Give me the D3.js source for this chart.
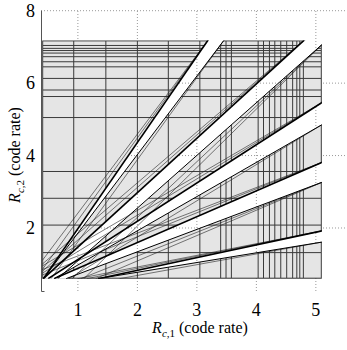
<!DOCTYPE html>
<html>
<head>
<meta charset="utf-8">
<script src="https://cdn.jsdelivr.net/npm/d3@7"></script>
<style>
body { margin: 0; background: #fff; }
text { font-family: "Liberation Serif", "DejaVu Serif", serif; }
</style>
</head>
<body>
<svg id="chart"></svg>
<script>
var width = 347,
    height = 350;

// axis ticks
var xTicks = [1, 2, 3, 4, 5];
var yTicks = [2, 4, 6, 8];

// shaded region bounds
var regionX = [0.40, 5.10];
var regionY = [0.60, 7.18];

// dark grid lines inside the shaded region
var gridX = [0.93, 1.47, 2.0, 2.52, 3.05, 3.40, 3.49, 3.58, 4.03, 4.12, 4.22, 4.31, 4.41, 4.51, 4.61, 4.68, 4.73, 4.79];
var gridY = [1.32, 2.08, 2.82, 3.56, 5.05, 5.63, 5.81, 6.13, 6.45, 6.59, 6.73, 6.83, 6.90, 6.96, 7.04];

// white wedges: upper edge and lower edge, each [x0, y0, x1, y1]
var wedgeUpper = [
    [0.42, 0.60, 3.185, 7.18],
    [0.42, 0.60, 4.80, 7.18],
    [0.50, 0.60, 5.10, 5.46],
    [0.60, 0.60, 5.10, 3.81],
    [1.34, 0.60, 5.10, 1.92]
];
var wedgeLower = [
    [0.42, 0.60, 3.454, 7.18],
    [0.66, 0.60, 5.10, 7.06],
    [0.60, 0.60, 5.10, 4.85],
    [0.80, 0.60, 5.10, 3.26],
    [1.34, 0.60, 5.10, 1.61]
];

// thin lines that start near the corner and run into the wedge edges
var thinRays = [
    [0.40, 0.85, 3.185, 7.18],
    [0.40, 1.10, 3.185, 7.18],
    [0.55, 0.60, 3.454, 7.18],
    [0.40, 0.80, 4.80, 7.18],
    [0.40, 1.00, 4.80, 7.18],
    [0.90, 0.60, 5.10, 7.06],
    [1.10, 0.60, 5.10, 7.06],
    [0.40, 0.75, 5.10, 5.46],
    [0.40, 0.95, 5.10, 5.46],
    [0.85, 0.60, 5.10, 4.85],
    [0.40, 0.70, 5.10, 3.81],
    [0.40, 0.85, 5.10, 3.81],
    [1.05, 0.60, 5.10, 3.26],
    [1.30, 0.60, 5.10, 3.26],
    [1.00, 0.60, 5.10, 1.92],
    [1.15, 0.60, 5.10, 1.92],
    [1.70, 0.60, 5.10, 1.61]
];

var x = d3.scaleLinear().domain([0.38, 5.5]).range([41, 345.6]);
var y = d3.scaleLinear().domain([0.26, 8]).range([291, 10.7]);

var svg = d3.select("#chart")
    .attr("width", width)
    .attr("height", height);

var defs = svg.append("defs");

defs.append("clipPath").attr("id", "region")
    .append("rect")
    .attr("x", x(regionX[0]))
    .attr("y", y(regionY[1]))
    .attr("width", x(regionX[1]) - x(regionX[0]))
    .attr("height", y(regionY[0]) - y(regionY[1]));

// extend a line past its end so the wedge covers the region corner
function far(l, t) {
    return [l[0] + (l[2] - l[0]) * t, l[1] + (l[3] - l[1]) * t];
}

function wedgePoints(i) {
    var u = wedgeUpper[i], lo = wedgeLower[i];
    var pts = [[u[0], u[1]], far(u, 3), far(lo, 3), [lo[0], lo[1]]];
    return pts.map(function(p) { return [x(p[0]), y(p[1])]; }).join(" ");
}

var mask = defs.append("mask").attr("id", "holes");
mask.append("rect").attr("width", width).attr("height", height).attr("fill", "#fff");
mask.selectAll("polygon")
    .data(d3.range(wedgeUpper.length))
    .enter().append("polygon")
    .attr("points", wedgePoints)
    .attr("fill", "#000");

// dotted grid
svg.append("g").selectAll("line")
    .data(xTicks)
    .enter().append("line")
    .attr("x1", function(d) { return x(d); })
    .attr("x2", function(d) { return x(d); })
    .attr("y1", y(0.26))
    .attr("y2", y(8))
    .style("stroke", "#999")
    .style("stroke-dasharray", "1,2");
svg.append("g").selectAll("line")
    .data(yTicks)
    .enter().append("line")
    .attr("x1", x(0.38))
    .attr("x2", width)
    .attr("y1", function(d) { return y(d); })
    .attr("y2", function(d) { return y(d); })
    .style("stroke", "#999")
    .style("stroke-dasharray", "1,2");

// shaded region with its grid, wedges cut out
var region = svg.append("g")
    .attr("clip-path", "url(#region)")
    .attr("mask", "url(#holes)");

region.append("rect")
    .attr("x", x(regionX[0]))
    .attr("y", y(regionY[1]))
    .attr("width", x(regionX[1]) - x(regionX[0]))
    .attr("height", y(regionY[0]) - y(regionY[1]))
    .style("fill", "#e5e5e5")
    .style("stroke", "#3a3a3a")
    .style("stroke-width", 2);

region.selectAll(".gx")
    .data(gridX)
    .enter().append("line")
    .attr("class", "gx")
    .attr("x1", function(d) { return x(d); })
    .attr("x2", function(d) { return x(d); })
    .attr("y1", y(regionY[0]))
    .attr("y2", y(regionY[1]))
    .style("stroke", "#3a3a3a")
    .style("stroke-width", 1);

region.selectAll(".gy")
    .data(gridY)
    .enter().append("line")
    .attr("class", "gy")
    .attr("x1", x(regionX[0]))
    .attr("x2", x(regionX[1]))
    .attr("y1", function(d) { return y(d); })
    .attr("y2", function(d) { return y(d); })
    .style("stroke", "#3a3a3a")
    .style("stroke-width", 1);

// rays
var rays = svg.append("g").attr("clip-path", "url(#region)");

rays.selectAll(".thin")
    .data(thinRays)
    .enter().append("line")
    .attr("class", "thin")
    .attr("x1", function(d) { return x(d[0]); })
    .attr("y1", function(d) { return y(d[1]); })
    .attr("x2", function(d) { return x(d[2]); })
    .attr("y2", function(d) { return y(d[3]); })
    .style("stroke", "#222")
    .style("stroke-width", 0.6);

rays.selectAll(".lo")
    .data(wedgeLower)
    .enter().append("line")
    .attr("class", "lo")
    .attr("x1", function(d) { return x(d[0]); })
    .attr("y1", function(d) { return y(d[1]); })
    .attr("x2", function(d) { return x(far(d, 1.2)[0]); })
    .attr("y2", function(d) { return y(far(d, 1.2)[1]); })
    .style("stroke", "#000")
    .style("stroke-width", 1);

rays.selectAll(".up")
    .data(wedgeUpper)
    .enter().append("line")
    .attr("class", "up")
    .attr("x1", function(d) { return x(d[0]); })
    .attr("y1", function(d) { return y(d[1]); })
    .attr("x2", function(d) { return x(far(d, 1.2)[0]); })
    .attr("y2", function(d) { return y(far(d, 1.2)[1]); })
    .style("stroke", "#000")
    .style("stroke-width", 1.6);

// left axis
svg.append("path")
    .attr("d", "M" + (x(0.38) + 0.5) + "," + y(8) + "V" + (y(0.26) + 0.5) + "h3")
    .style("fill", "none")
    .style("stroke", "#555");

svg.append("g").selectAll("text")
    .data(yTicks)
    .enter().append("text")
    .attr("x", x(0.38) - 6)
    .attr("y", function(d) { return y(d) + 6; })
    .attr("text-anchor", "end")
    .style("font-size", "18px")
    .text(function(d) { return d; });

svg.append("g").selectAll("text")
    .data(xTicks)
    .enter().append("text")
    .attr("x", function(d) { return x(d); })
    .attr("y", 316)
    .attr("text-anchor", "middle")
    .style("font-size", "18px")
    .text(function(d) { return d; });

// axis titles
var xt = svg.append("text")
    .attr("x", 200)
    .attr("y", 333)
    .attr("text-anchor", "middle")
    .style("font-size", "16px");
xt.append("tspan").style("font-style", "italic").text("R");
xt.append("tspan").attr("dy", 4).style("font-size", "11px").style("font-style", "italic").text("c");
xt.append("tspan").style("font-size", "11px").text(",1");
xt.append("tspan").attr("dy", -4).text(" (code rate)");

var yt = svg.append("text")
    .attr("transform", "translate(20,155) rotate(-90)")
    .attr("text-anchor", "middle")
    .style("font-size", "16px");
yt.append("tspan").style("font-style", "italic").text("R");
yt.append("tspan").attr("dy", 4).style("font-size", "11px").style("font-style", "italic").text("c");
yt.append("tspan").style("font-size", "11px").text(",2");
yt.append("tspan").attr("dy", -4).text(" (code rate)");
</script>
</body>
</html>
